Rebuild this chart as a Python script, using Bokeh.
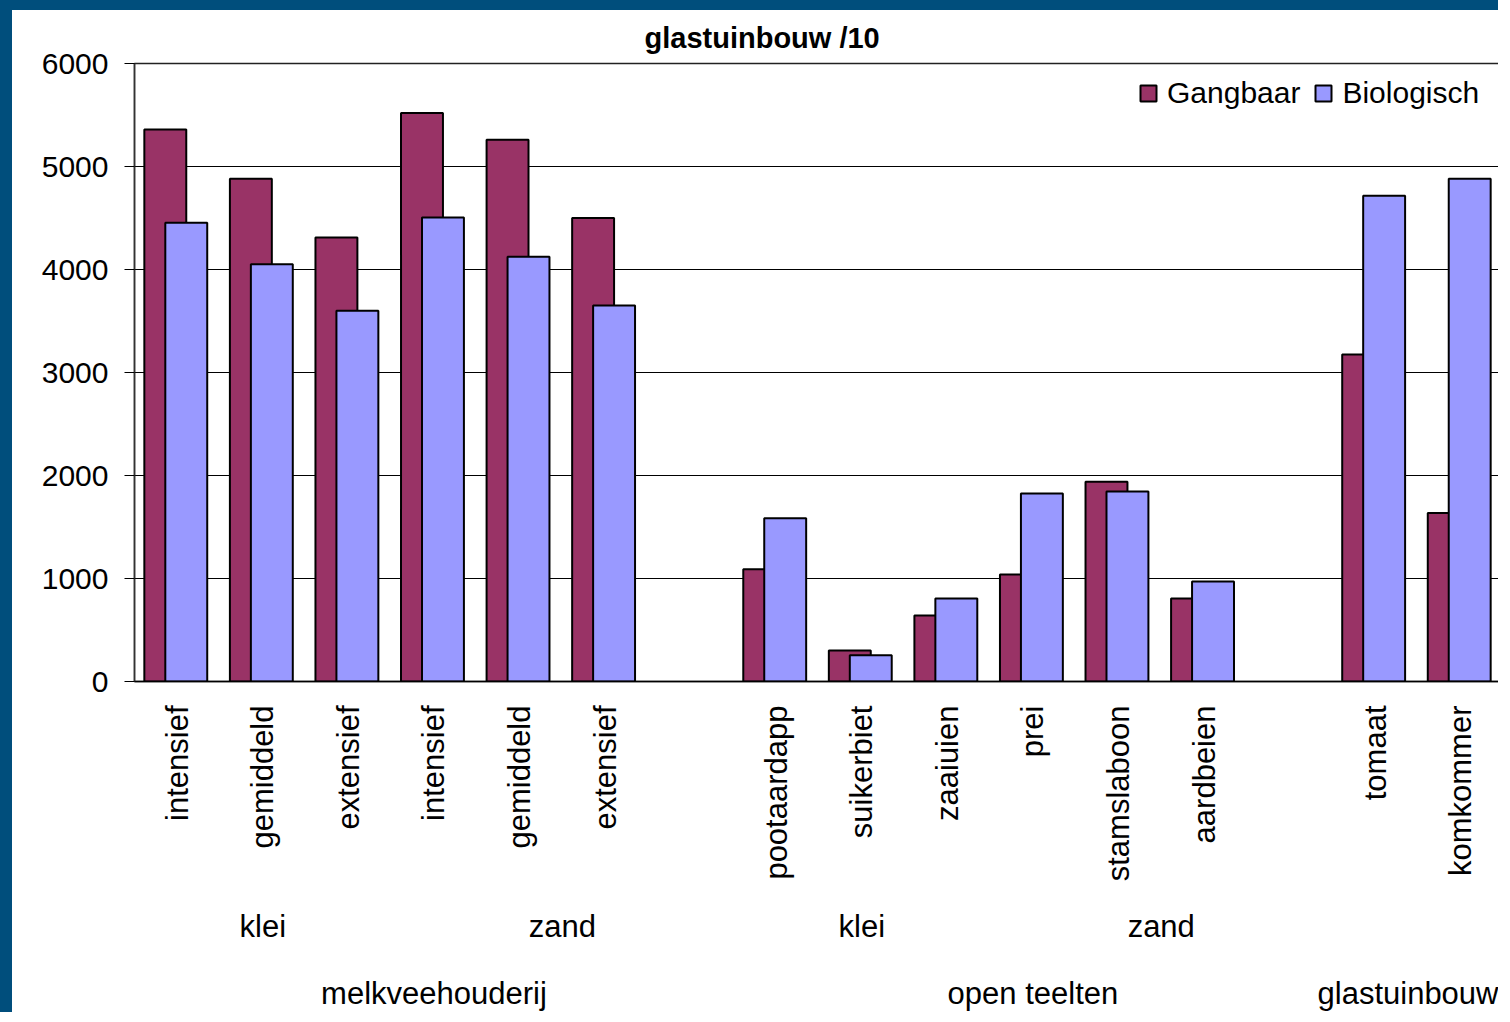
import math
from bokeh.plotting import figure
from bokeh.models import (Range1d, FixedTicker, Legend, LegendItem, LinearAxis,
                          ColumnDataSource)
from bokeh.embed import file_html
from bokeh.resources import INLINE

# ---------------- data ----------------
categories = ["intensief", "gemiddeld", "extensief", "intensief", "gemiddeld", "extensief",
              "pootaardapp", "suikerbiet", "zaaiuien", "prei", "stamslaboon", "aardbeien",
              "tomaat", "komkommer"]
subgroups = ["klei", "klei", "klei", "zand", "zand", "zand",
             "klei", "klei", "klei", "zand", "zand", "zand",
             "", ""]
groups = ["melkveehouderij"] * 6 + ["open teelten"] * 6 + ["glastuinbouw"] * 2
gangbaar = [5360, 4880, 4310, 5520, 5260, 4500,
            1090, 300, 640, 1040, 1940, 805,
            3175, 1635]
biologisch = [4455, 4050, 3600, 4505, 4125, 3650,
              1585, 255, 805, 1825, 1845, 970,
              4715, 4880]
y_ticks = [0, 1000, 2000, 3000, 4000, 5000, 6000]
series_names = ["Gangbaar", "Biologisch"]
title_text = "glastuinbouw /10"

# ---------------- styling ----------------
FONT = "Liberation Sans"
C_G = "#993366"
C_B = "#9999FF"
BLUE = "#004E7C"

# slot positions: one empty slot between main groups
slots = []
s = -1
for i, g in enumerate(groups):
    s += 1
    if i > 0 and g != groups[i - 1]:
        s += 1
    slots.append(s)
n_slots = slots[-1] + 1


def spans(keys):
    out = []
    start = 0
    for i in range(1, len(keys) + 1):
        if i == len(keys) or keys[i] != keys[start]:
            end = slots[i] if i < len(keys) else slots[-1] + 1
            out.append((keys[start][-1], slots[start], end))
            start = i
    return out


sub_spans = [t for t in spans(list(zip(groups, subgroups))) if t[0]]
grp_spans = spans([(g,) for g in groups])

src = ColumnDataSource(dict(
    xg=[x - 0.14 for x in slots],
    xb=[x + 0.105 for x in slots],
    g=gangbaar, b=biologisch))

p = figure(width=1498, height=1012,
           x_range=Range1d(-0.5, n_slots - 0.5), y_range=Range1d(0, 6000),
           output_backend="svg", toolbar_location=None,
           min_border_left=122, min_border_right=7,
           min_border_top=53, min_border_bottom=341)
p.styles = {"border-left": "12px solid " + BLUE, "border-top": "10px solid " + BLUE}
p.background_fill_color = "white"
p.border_fill_color = "white"
p.outline_line_color = "#222222"
p.outline_line_width = 1.5

p.title.text = title_text
p.title.text_font = FONT
p.title.text_font_size = "29px"
p.title.text_font_style = "bold"
p.title.text_color = "black"
p.title.align = "left"
p.title.offset = 510
p.title.standoff = 19

rg = p.vbar(x="xg", top="g", width=0.49, source=src, fill_color=C_G,
            line_color="black", line_width=2)
rb = p.vbar(x="xb", top="b", width=0.49, source=src, fill_color=C_B,
            line_color="black", line_width=2)

# axes
p.xaxis.ticker = FixedTicker(ticks=slots)
p.xaxis.major_label_overrides = {sl: c for sl, c in zip(slots, categories)}
p.xaxis.major_label_orientation = math.pi / 2
p.xaxis.major_tick_line_color = None
p.xaxis.minor_tick_line_color = None
p.xaxis.major_label_standoff = 18
p.xaxis.axis_line_color = "black"
p.xaxis.axis_line_width = 1.5
p.xaxis.major_label_text_font = FONT
p.xaxis.major_label_text_font_size = "31px"
p.xaxis.major_label_text_color = "black"

p.yaxis.ticker = FixedTicker(ticks=y_ticks)
p.yaxis.major_tick_out = 10
p.yaxis.major_tick_in = 0
p.yaxis.major_tick_line_color = "black"
p.yaxis.minor_tick_line_color = None
p.yaxis.major_label_standoff = 16
p.yaxis.axis_line_color = "#333333"
p.yaxis.axis_line_width = 1.5
p.yaxis.major_label_text_font = FONT
p.yaxis.major_label_text_font_size = "30px"
p.yaxis.major_label_text_color = "black"

p.xgrid.visible = False
p.ygrid.grid_line_color = "black"
p.ygrid.grid_line_width = 1


def group_axis(spans_list, standoff):
    centers = [(a + b) / 2 - 0.5 for _, a, b in spans_list]
    ax = LinearAxis(ticker=FixedTicker(ticks=centers),
                    major_label_overrides={c: n for c, (n, _, _) in zip(centers, spans_list)})
    ax.axis_line_color = None
    ax.major_tick_line_color = None
    ax.minor_tick_line_color = None
    ax.major_label_standoff = standoff
    ax.major_label_text_font = FONT
    ax.major_label_text_font_size = "31px"
    ax.major_label_text_color = "black"
    p.add_layout(ax, "below")


group_axis(sub_spans, 18)
group_axis(grp_spans, 23)

# legend
legend = Legend(items=[LegendItem(label=series_names[0], renderers=[rg]),
                       LegendItem(label=series_names[1], renderers=[rb])],
                location=(1004, 571), orientation="horizontal")
legend.label_text_font = FONT
legend.label_text_font_size = "30px"
legend.label_text_color = "black"
legend.glyph_width = 20
legend.glyph_height = 20
legend.label_standoff = 9
legend.spacing = 13
legend.padding = 0
legend.margin = 0
legend.border_line_color = None
legend.background_fill_alpha = 0
p.add_layout(legend)

open("out.html", "w").write(file_html(p, INLINE))
